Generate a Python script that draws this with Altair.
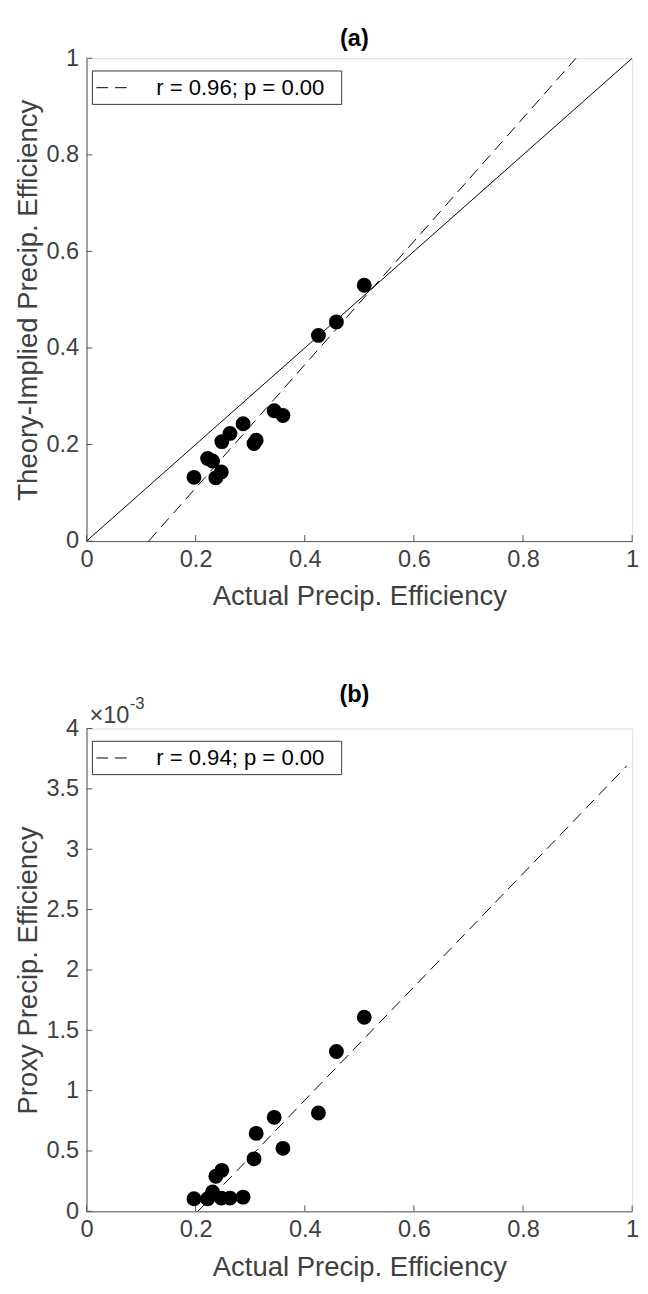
import altair as alt
import pandas as pd

# ---- data ----
actual_pe = [0.197, 0.222, 0.231, 0.237, 0.247, 0.248, 0.263, 0.287, 0.307, 0.311,
             0.344, 0.360, 0.425, 0.458, 0.509]
theory_pe = [0.132, 0.171, 0.166, 0.131, 0.143, 0.206, 0.223, 0.243, 0.202, 0.209,
             0.270, 0.260, 0.426, 0.454, 0.530]
proxy_pe = [0.000104, 0.000104, 0.000160, 0.000291, 0.000110, 0.000340, 0.000110,
            0.000118, 0.000435, 0.000646, 0.000779, 0.000522, 0.000815, 0.001324,
            0.001608]

fit_a_x = [0.114, 0.897]
fit_a_y = [0.0, 1.0]
one_to_one = [0.0, 1.0]
fit_b_x = [0.204, 0.990]
fit_b_y = [0.0, 0.00369]

x_ticks = [0, 0.2, 0.4, 0.6, 0.8, 1.0]
ya_ticks = [0, 0.2, 0.4, 0.6, 0.8, 1.0]
yb_ticks = [0, 0.0005, 0.001, 0.0015, 0.002, 0.0025, 0.003, 0.0035, 0.004]

legend_a = "r = 0.96; p = 0.00"
legend_b = "r = 0.94; p = 0.00"
title_a = "(a)"
title_b = "(b)"
x_title = "Actual Precip. Efficiency"
ya_title = "Theory-Implied Precip. Efficiency"
yb_title = "Proxy Precip. Efficiency"

W, H = 556, 492
FONT = "Liberation Sans"
LABEL = "#404040"
LINE = "#555555"
DASH = [12, 7]
TICK_FS = 24
TITLE_FS = 28


def panel(ydata, ytitle, ydomain, yticks, ylabel_expr, fitx, fity, legend_text,
          title_text, title_dy, identity, exponent):
    xs = alt.Scale(domain=[0, 1], nice=False, zero=False)
    ys = alt.Scale(domain=ydomain, nice=False, zero=False)
    xaxis = alt.Axis(values=x_ticks, title=x_title, format="~g", ticks=False,
                     tickSize=0, grid=False, labelPadding=7, titlePadding=12,
                     labelFontSize=TICK_FS, titleFontSize=TITLE_FS, labelFont=FONT,
                     titleFont=FONT, titleFontWeight="normal", labelColor=LABEL,
                     titleColor=LABEL, domainColor=LINE, domainWidth=1,
                     labelFlush=False)
    yaxis = alt.Axis(values=yticks, title=ytitle, labelExpr=ylabel_expr,
                     ticks=False, tickSize=0, grid=False, labelPadding=8,
                     titlePadding=4, labelFontSize=TICK_FS, titleFontSize=TITLE_FS,
                     labelFont=FONT, titleFont=FONT, titleFontWeight="normal",
                     labelColor=LABEL, titleColor=LABEL, domainColor=LINE,
                     domainWidth=1, labelFlush=False)

    def X(f="x"):
        return alt.X(f + ":Q", scale=xs, axis=xaxis)

    def Y(f="y"):
        return alt.Y(f + ":Q", scale=ys, axis=yaxis)

    pts = pd.DataFrame({"x": actual_pe, "y": ydata})
    scatter = alt.Chart(pts).mark_circle(size=230, color="black", opacity=1).encode(
        x=X(), y=Y())
    layers = []
    if identity:
        idf = pd.DataFrame({"x": one_to_one, "y": one_to_one})
        layers.append(alt.Chart(idf).mark_line(color="black", strokeWidth=1).encode(
            x=X(), y=Y()))
    fdf = pd.DataFrame({"x": fitx, "y": fity})
    layers.append(alt.Chart(fdf).mark_line(color="black", strokeWidth=1,
                                           strokeDash=DASH).encode(x=X(), y=Y()))

    # inward tick marks
    xt = pd.DataFrame({"x": x_ticks})
    xtick = alt.Chart(xt).mark_rule(color=LINE, strokeWidth=1).encode(
        x=X(), y=alt.value(H), y2=alt.value(H - 6))
    yt = pd.DataFrame({"y": yticks})
    ytick = alt.Chart(yt).mark_rule(color=LINE, strokeWidth=1).encode(
        y=Y(), x=alt.value(0), x2=alt.value(6))

    # legend box
    ldf = pd.DataFrame({"label": [legend_text]})
    box = alt.Chart(ldf).mark_rect(fill="white", stroke="#333333", strokeWidth=1).encode(
        x=alt.value(6), x2=alt.value(260), y=alt.value(13), y2=alt.value(47))
    lline = alt.Chart(ldf).mark_rule(color="black", strokeWidth=1,
                                     strokeDash=DASH).encode(
        x=alt.value(10), x2=alt.value(41), y=alt.value(30))
    ltext = alt.Chart(ldf).mark_text(align="left", baseline="middle", fontSize=22.5,
                                     font=FONT, color="black").encode(
        x=alt.value(71), y=alt.value(30.5), text="label:N")

    tdf = pd.DataFrame({"t": [title_text]})
    title = alt.Chart(tdf).mark_text(fontSize=24, fontWeight="bold", font=FONT,
                                     color="black", baseline="middle").encode(
        x=alt.value(273), y=alt.value(title_dy), text="t:N")

    extra = []
    if exponent:
        edf = pd.DataFrame({"a": ["\u00d710"], "b": ["-3"]})
        extra.append(alt.Chart(edf).mark_text(align="left", baseline="middle",
                                              fontSize=24, font=FONT,
                                              color=LABEL).encode(
            x=alt.value(3), y=alt.value(-13), text="a:N"))
        extra.append(alt.Chart(edf).mark_text(align="left", baseline="middle",
                                              fontSize=17, font=FONT,
                                              color=LABEL).encode(
            x=alt.value(44), y=alt.value(-25), text="b:N"))

    return alt.layer(scatter, *layers, xtick, ytick, box, lline, ltext, title,
                     *extra).properties(width=W, height=H)


pa = panel(theory_pe, ya_title, [0, 1], ya_ticks, "format(datum.value, '~g')",
           fit_a_x, fit_a_y, legend_a, title_a, -19, True, False)
pb = panel(proxy_pe, yb_title, [0, 0.004], yb_ticks,
           "format(datum.value * 1000, '~g')", fit_b_x, fit_b_y, legend_b, title_b,
           -34, False, True)

chart = alt.vconcat(pa, pb, spacing=72).properties(
    padding={"left": 6, "top": 7, "right": 0, "bottom": 0}
).configure_view(strokeWidth=0).configure(background="white")

chart.save("out.html", embed_options={"renderer": "svg", "actions": False})
